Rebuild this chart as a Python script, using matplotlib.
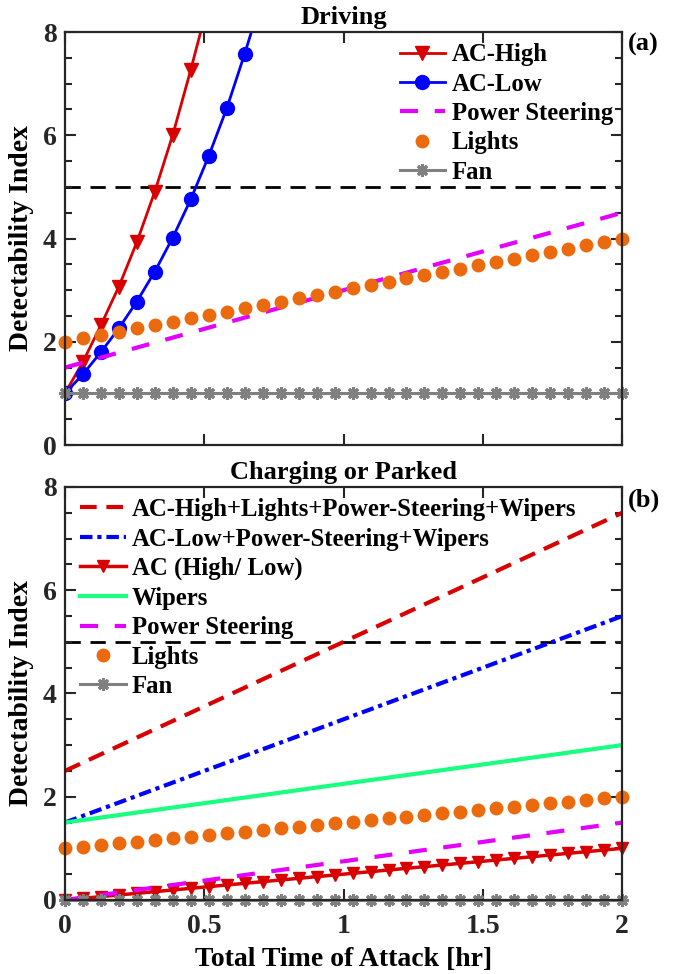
import numpy as np
import matplotlib
matplotlib.use('Agg')
import matplotlib.pyplot as plt
from matplotlib.ticker import MultipleLocator

plt.rcParams['font.family'] = ['Liberation Serif', 'DejaVu Serif']
plt.rcParams['font.weight'] = 'bold'
plt.rcParams['axes.labelweight'] = 'bold'
plt.rcParams['axes.titleweight'] = 'bold'
plt.rcParams['lines.scale_dashes'] = False

# time of attack [hr], 32 samples
t = np.linspace(0, 2, 32)
threshold = 5

# driving
drv_ac_high = [1.0, 1.61, 2.32, 3.07, 3.93, 4.91, 6.01, 7.27, 8.6]
drv_ac_low = [1.0, 1.37, 1.80, 2.26, 2.78, 3.36, 4.02, 4.76, 5.60, 6.52, 7.58, 8.71]
drv_steering = [1.5, 4.5]
drv_lights = [2.0, 4.0]
drv_fan = 1.0

# charging or parked
prk_all_high = [2.5, 7.5]
prk_all_low = [1.5, 5.5]
prk_ac = [0.0, 1.0]
prk_wipers = [1.5, 3.0]
prk_steering = [0.0, 1.5]
prk_lights = [1.0, 2.0]
prk_fan = 0.0

RED = '#d80000'
BLUE = '#0000ff'
MAGENTA = '#e400ff'
ORANGE = '#ec6a0e'
GREEN = '#19ff80'
GRAY = '#808080'
DARK = '#262626'
FAN_MARKER = (8, 2, 0)

FS = 20      # ticks and axis labels
FS_LEG = 17.8
FS_TITLE = 19


def lin(ends):
    return np.linspace(ends[0], ends[1], len(t))


def style_axes(ax):
    ax.set_xlim(0, 2)
    ax.set_ylim(0, 8)
    ax.xaxis.set_major_locator(MultipleLocator(0.5))
    ax.yaxis.set_major_locator(MultipleLocator(2))
    ax.yaxis.set_minor_locator(MultipleLocator(0.5))
    ax.tick_params(which='both', direction='in', top=True, right=True,
                   width=1.5, colors=DARK, labelsize=FS)
    ax.tick_params(axis='y', pad=6)
    ax.tick_params(axis='x', pad=10)
    ax.tick_params(which='major', length=8)
    ax.tick_params(which='minor', length=5)
    for s in ax.spines.values():
        s.set_linewidth(1.6)
        s.set_color(DARK)
    ax.set_ylabel('Detectability Index', fontsize=FS, labelpad=6)
    ax.axhline(threshold, color='k', lw=2, dashes=(11, 7), zorder=1)


fig = plt.figure(figsize=(6.8, 9.74), dpi=100)
ax1 = fig.add_axes([0.0955, 0.5431, 0.8195, 0.424])
ax2 = fig.add_axes([0.0955, 0.076, 0.8195, 0.424])

leg_kw = dict(frameon=False, fontsize=FS_LEG, handlelength=1.85,
              handletextpad=0.25, labelspacing=0.26, borderaxespad=0.0,
              borderpad=0.2)

# --- Driving ---
style_axes(ax1)
ax1.plot(t[:len(drv_ac_high)], drv_ac_high, color=RED, lw=2, marker='v',
         ms=10, label='AC-High')
ax1.plot(t[:len(drv_ac_low)], drv_ac_low, color=BLUE, lw=2, marker='o',
         ms=10, label='AC-Low')
ax1.plot(t, lin(drv_steering), color=MAGENTA, lw=3, dashes=(13, 12),
         label='Power Steering')
ax1.plot(t, lin(drv_lights), ls='none', marker='o', ms=9, color=ORANGE,
         label='Lights', clip_on=False)
ax1.plot(t, np.full(len(t), drv_fan), color=GRAY, lw=2.2, marker=FAN_MARKER,
         ms=9, mew=2.2, label='Fan', clip_on=False)
ax1.set_xticklabels([])
ax1.set_title('Driving', fontsize=FS_TITLE, pad=6)
ax1.text(1.01, 0.969, '(a)', transform=ax1.transAxes, fontsize=FS_TITLE,
         ha='left', va='center')
ax1.legend(loc='upper right', bbox_to_anchor=(0.992, 0.985), **leg_kw)

# --- Charging or Parked ---
style_axes(ax2)
ax2.plot(t, lin(prk_all_high), color=RED, lw=3, dashes=(12, 7),
         label='AC-High+Lights+Power-Steering+Wipers')
ax2.plot(t, lin(prk_all_low), color=BLUE, lw=3, dashes=(9, 3.5, 3, 3.5),
         label='AC-Low+Power-Steering+Wipers')
ax2.plot(t, lin(prk_ac), color=RED, lw=2.5, marker='v', ms=9,
         label='AC (High/ Low)', clip_on=False)
ax2.plot(t, lin(prk_wipers), color=GREEN, lw=3, label='Wipers')
ax2.plot(t, lin(prk_steering), color=MAGENTA, lw=3, dashes=(13, 12),
         label='Power Steering')
ax2.plot(t, lin(prk_lights), ls='none', marker='o', ms=9, color=ORANGE,
         label='Lights', clip_on=False)
ax2.plot(t, np.full(len(t), prk_fan), color=GRAY, lw=2.2, marker=FAN_MARKER,
         ms=9, mew=2.2, label='Fan', clip_on=False)
ax2.set_xticks([0, 0.5, 1, 1.5, 2])
ax2.set_xticklabels(['0', '0.5', '1', '1.5', '2'])
ax2.set_xlabel('Total Time of Attack [hr]', fontsize=FS, labelpad=6)
ax2.set_title('Charging or Parked', fontsize=FS_TITLE, pad=6)
ax2.text(1.01, 0.969, '(b)', transform=ax2.transAxes, fontsize=FS_TITLE,
         ha='left', va='center')
ax2.legend(loc='upper left', bbox_to_anchor=(0.018, 0.985), **leg_kw)

fig.savefig('out.png', dpi=100)
